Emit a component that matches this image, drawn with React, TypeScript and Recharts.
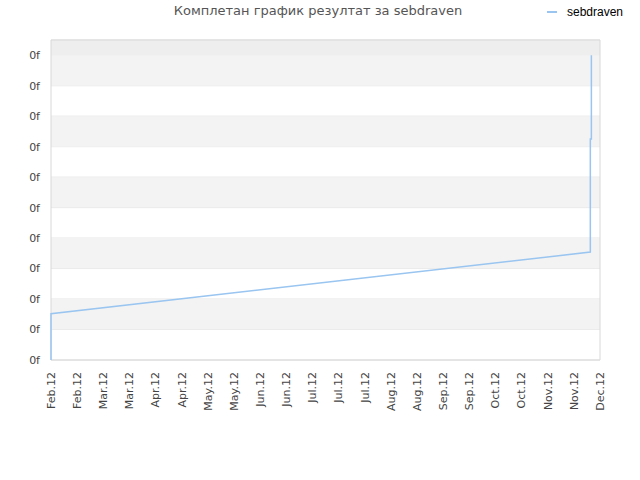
import { LineChart, Line, XAxis, YAxis, CartesianGrid, ReferenceArea } from 'recharts';

const xLabels = [
  'Feb.12', 'Feb.12', 'Mar.12', 'Mar.12', 'Apr.12', 'Apr.12', 'May.12', 'May.12',
  'Jun.12', 'Jun.12', 'Jul.12', 'Jul.12', 'Jul.12', 'Aug.12', 'Aug.12', 'Sep.12',
  'Sep.12', 'Oct.12', 'Oct.12', 'Nov.12', 'Nov.12', 'Dec.12',
];
const yTicks = [0, 1, 2, 3, 4, 5, 6, 7, 8, 9, 10];
const yTop = 10.5;

// position along the time axis (in tick steps) and the score
const seriesX = [0, 0, 20.63, 20.63, 20.67, 20.67];
const seriesY = [0, 1.52, 3.54, 7.25, 7.25, 10];

const data = seriesX.map((x, i) => ({ x, score: seriesY[i] }));
const xTicks = xLabels.map((_, i) => i);
const grayBands = yTicks.filter(t => t % 2 === 1);

const XTick = ({ x, y, payload }: any) => (
  <text
    x={x}
    y={y}
    transform={`rotate(-90, ${x}, ${y})`}
    textAnchor="end"
    dy="0.35em"
    fontSize={11}
    fontFamily="DejaVu Sans"
    fill="#444"
  >
    {xLabels[payload.value]}
  </text>
);

export default function App() {
  return (
    <div style={{ position: 'absolute', left: 0, top: 0, width: 640, height: 480, background: '#fff' }}>
      <div
        style={{
          position: 'absolute', top: 3, left: 0, width: 636, textAlign: 'center',
          fontFamily: 'DejaVu Sans', fontSize: 13, color: '#555',
        }}
      >
        Комплетан график резултат за sebdraven
      </div>
      <div
        style={{
          position: 'absolute', top: 5, left: 547, display: 'flex', alignItems: 'center',
          fontFamily: 'Liberation Sans', fontSize: 12, color: '#000',
        }}
      >
        <span style={{ display: 'inline-block', width: 10, height: 2, background: '#99c5f0', marginRight: 10 }} />
        sebdraven
      </div>
      <LineChart width={640} height={480} data={data} margin={{ top: 40, right: 40, left: 0, bottom: 0 }}>
        <ReferenceArea y1={yTicks[yTicks.length - 1]} y2={yTop} fill="#eeeeee" fillOpacity={1} />
        {grayBands.map(t => (
          <ReferenceArea key={t} y1={t} y2={t + 1} fill="#f3f3f3" fillOpacity={1} />
        ))}
        <CartesianGrid vertical={false} stroke="#e2e2e2" />
        <XAxis
          dataKey="x"
          type="number"
          domain={[0, xLabels.length - 1]}
          ticks={xTicks}
          tick={<XTick />}
          interval={0}
          tickLine={false}
          axisLine={false}
          tickMargin={6}
          height={120}
        />
        <YAxis
          type="number"
          domain={[0, yTop]}
          ticks={yTicks}
          tickFormatter={() => '0f'}
          tick={{ fontSize: 11, fontFamily: 'DejaVu Sans', fill: '#444' }}
          tickLine={false}
          axisLine={false}
          tickMargin={5}
          width={51}
        />
        <ReferenceArea x1={0} x2={xLabels.length - 1} y1={0} y2={yTop} fill="none" stroke="#d8d8d8" />
        <Line
          type="linear"
          dataKey="score"
          stroke="#99c5f0"
          strokeWidth={1.5}
          dot={false}
          isAnimationActive={false}
        />
      </LineChart>
    </div>
  );
}
